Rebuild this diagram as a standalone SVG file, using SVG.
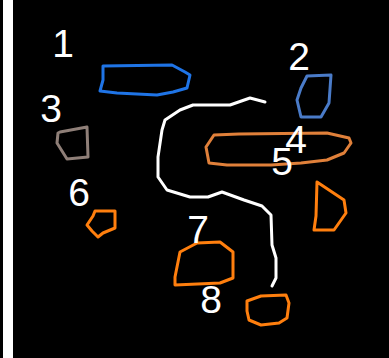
<svg xmlns="http://www.w3.org/2000/svg" width="389" height="358" viewBox="0 0 389 358">
<style>
.lbl{font-family:"Liberation Sans",Arial,sans-serif;font-size:39px;fill:#fff;text-anchor:middle}
.sh{fill:none;stroke-width:3;stroke-linejoin:round;stroke-linecap:round}
</style>
<rect x="0" y="0" width="389" height="358" fill="#000"/>
<rect x="3" y="0" width="10" height="358" fill="#fff"/>
<g id="connectors">
<path class="sh" stroke="#fff" d="M265,102 L250,98 L230,105 L193,105 L180,110 L165,120 L162,130 L158,157 L158,177 L167,190 L190,197 L208,197 L222,192 L244,200 L262,206 L271,215 L272,245 L276,258 L276,278 L272,286"/>
</g>
<g id="node1"><path class="sh" stroke="#1f74e6" d="M103,66 L172,65 L185,72 L190,75 L187,88 L173,92 L157,95 L117,93 L100,91 L103,80 Z"/><text class="lbl" x="63" y="57">1</text></g>
<g id="node2"><path class="sh" stroke="#4a7bc8" d="M307,76 L331,75 L329,103 L321,117 L301,117 L297,100 L301,88 Z"/><text class="lbl" x="299" y="70">2</text></g>
<g id="node3"><path class="sh" stroke="#8f7f78" d="M60,132 L87,127 L88,157 L67,159 L57,143 L58,133 Z"/><text class="lbl" x="51" y="122">3</text></g>
<g id="node4"><path class="sh" stroke="#e0803a" d="M214,135 L239,134 L327,133 L349,138 L351,143 L344,153 L327,160 L301,163 L271,165 L227,165 L209,163 L206,147 Z"/><text class="lbl" x="296" y="153">4</text></g>
<g id="node5"><path class="sh" stroke="#ff7f0e" d="M317,182 L344,200 L346,213 L334,230 L314,230 L316,216 Z"/><text class="lbl" x="282" y="175">5</text></g>
<g id="node6"><path class="sh" stroke="#ff7f0e" d="M95,211 L115,211 L115,228 L103,233 L98,237 L92,231 L87,225 L93,216 Z"/><text class="lbl" x="79" y="206">6</text></g>
<g id="node7"><path class="sh" stroke="#ff7f0e" d="M180,252 L197,243 L220,242 L233,252 L233,278 L220,283 L175,285 L175,277 L178,262 Z"/><text class="lbl" x="198" y="243">7</text></g>
<g id="node8"><path class="sh" stroke="#ff7f0e" d="M247,301 L261,296 L286,295 L289,303 L287,318 L279,323 L261,325 L249,320 L247,311 Z"/><text class="lbl" x="211" y="313">8</text></g>
</svg>
